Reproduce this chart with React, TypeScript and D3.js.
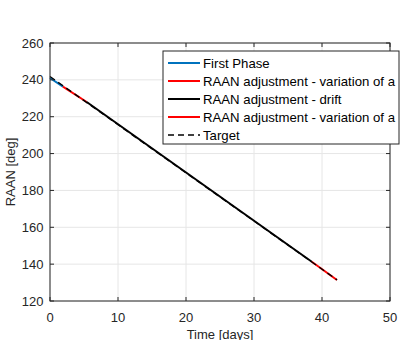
import React from "react";
import * as d3 from "d3";

// Time [days] and RAAN [deg] samples for each mission phase
const firstPhaseT = [0, 1.9];
const firstPhaseR = [241.0, 236.3];
const adjustA1T = [1.9, 5.4];
const adjustA1R = [236.3, 228.0];
const driftT = [5.4, 38.5];
const driftR = [228.0, 141.3];
const adjustA2T = [38.5, 42.2];
const adjustA2R = [141.3, 131.4];
const targetT = [0, 42.2];
const targetR = [241.8, 131.5];

const xTicks = [0, 10, 20, 30, 40, 50];
const yTicks = [120, 140, 160, 180, 200, 220, 240, 260];

const legendLabels = [
  "First Phase",
  "RAAN adjustment - variation of a",
  "RAAN adjustment - drift",
  "RAAN adjustment - variation of a",
  "Target",
];

const W = 402;
const H = 340;
const margin = { left: 50, right: 12, top: 43, bottom: 39 };
const font = "'Liberation Sans', Arial, Helvetica, sans-serif";

export default function App() {
  const x = d3.scaleLinear().domain([0, 50]).range([margin.left, W - margin.right]);
  const y = d3.scaleLinear().domain([120, 260]).range([H - margin.bottom, margin.top]);
  const line = d3
    .line<[number, number]>()
    .x((d) => x(d[0]))
    .y((d) => y(d[1]));
  const pts = (t: number[], r: number[]) => t.map((v, i) => [v, r[i]] as [number, number]);

  const series = [
    { t: firstPhaseT, r: firstPhaseR, color: "#0072BD", dash: undefined as string | undefined, w: 2 },
    { t: adjustA1T, r: adjustA1R, color: "#FF0000", dash: undefined, w: 2 },
    { t: driftT, r: driftR, color: "#000000", dash: undefined, w: 2 },
    { t: adjustA2T, r: adjustA2R, color: "#FF0000", dash: undefined, w: 2 },
    { t: targetT, r: targetR, color: "#000000", dash: "6,4", w: 1.4 },
  ];

  const x0 = x(0), x1 = x(50), y0 = y(120), y1 = y(260);
  const axisColor = "#262626";
  const tickLen = 4;

  const leg = { x: 163, y: 51, w: 236, h: 93 };
  const rowY = [63, 81, 99, 117, 135];

  return (
    <svg width={W} height={H} style={{ position: "absolute", left: 0, top: 0, background: "#fff" }}>
      <rect x={0} y={0} width={W} height={H} fill="#fff" />
      {/* grid */}
      {xTicks.map((t) => (
        <line key={"gx" + t} x1={x(t)} x2={x(t)} y1={y0} y2={y1} stroke="#e6e6e6" strokeWidth={1} />
      ))}
      {yTicks.map((t) => (
        <line key={"gy" + t} x1={x0} x2={x1} y1={y(t)} y2={y(t)} stroke="#e6e6e6" strokeWidth={1} />
      ))}
      {/* data */}
      <g>
        {series.map((s, i) => (
          <path
            key={"s" + i}
            d={line(pts(s.t, s.r)) || ""}
            fill="none"
            stroke={s.color}
            strokeWidth={s.w}
            strokeDasharray={s.dash}
          />
        ))}
      </g>
      {/* box and ticks */}
      <rect x={x0} y={y1} width={x1 - x0} height={y0 - y1} fill="none" stroke={axisColor} strokeWidth={1} />
      {xTicks.map((t) => (
        <g key={"tx" + t}>
          <line x1={x(t)} x2={x(t)} y1={y0} y2={y0 - tickLen} stroke={axisColor} />
          <line x1={x(t)} x2={x(t)} y1={y1} y2={y1 + tickLen} stroke={axisColor} />
          <text x={x(t)} y={y0 + 21} textAnchor="middle" fontFamily={font} fontSize={13} fill={axisColor}>
            {t}
          </text>
        </g>
      ))}
      {yTicks.map((t) => (
        <g key={"ty" + t}>
          <line x1={x0} x2={x0 + tickLen} y1={y(t)} y2={y(t)} stroke={axisColor} />
          <line x1={x1} x2={x1 - tickLen} y1={y(t)} y2={y(t)} stroke={axisColor} />
          <text x={x0 - 6.5} y={y(t) + 4.5} textAnchor="end" fontFamily={font} fontSize={13} fill={axisColor}>
            {t}
          </text>
        </g>
      ))}
      <text x={(x0 + x1) / 2} y={y0 + 38} textAnchor="middle" fontFamily={font} fontSize={13} fill={axisColor}>
        Time [days]
      </text>
      <text
        transform={`translate(15,${(y0 + y1) / 2}) rotate(-90)`}
        textAnchor="middle"
        fontFamily={font}
        fontSize={13}
        fill={axisColor}
      >
        RAAN [deg]
      </text>
      {/* legend */}
      <rect x={leg.x} y={leg.y} width={leg.w} height={leg.h} fill="#fff" stroke={axisColor} strokeWidth={1} />
      {legendLabels.map((lab, i) => (
        <g key={"l" + i}>
          <line
            x1={168}
            x2={200}
            y1={rowY[i]}
            y2={rowY[i]}
            stroke={series[i].color}
            strokeWidth={series[i].w}
            strokeDasharray={series[i].dash}
          />
          <text x={203} y={rowY[i] + 4.5} fontFamily={font} fontSize={13.2} fill="#000">
            {lab}
          </text>
        </g>
      ))}
    </svg>
  );
}
